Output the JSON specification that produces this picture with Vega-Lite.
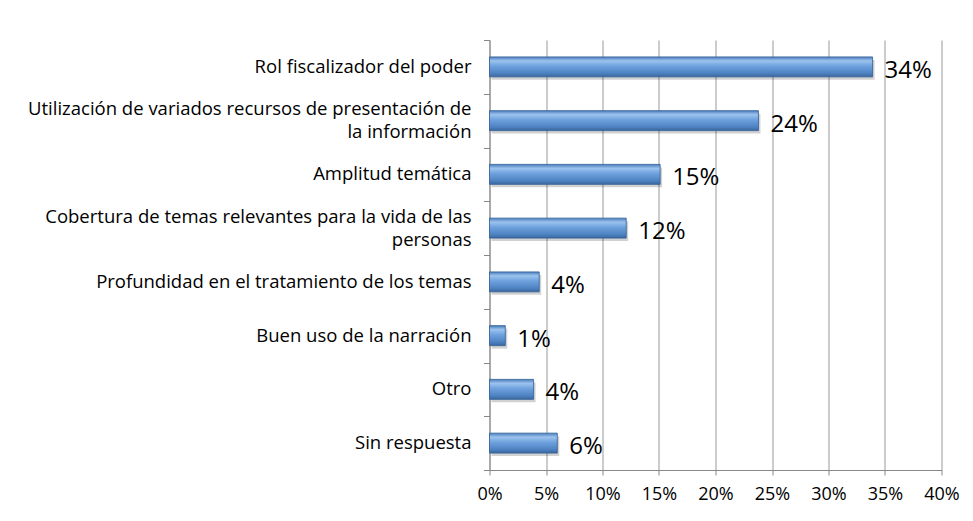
{
  "$schema": "https://vega.github.io/schema/vega-lite/v6.json",
  "autosize": {"type": "none"},
  "width": 452,
  "height": 430,
  "padding": {"left": 489.5, "top": 40, "right": 31.5, "bottom": 51},
  "background": "white",
  "config": {
    "view": {"stroke": null},
    "font": "Open Sans"
  },
  "data": {
    "values": [
      {"cat": "Rol fiscalizador del poder", "value": 0.339, "label": "34%"},
      {"cat": "Utilización de variados recursos de presentación de\nla información\u00a0\u00a0\u00a0\u00a0\u00a0\u00a0\u00a0\u00a0\u00a0\u00a0\u00a0\u00a0\u00a0\u00a0\u00a0\u00a0\u00a0\u00a0\u00a0\u00a0\u00a0\u00a0\u00a0\u00a0\u00a0\u00a0\u00a0\u00a0\u00a0\u00a0\u00a0\u00a0\u00a0", "value": 0.238, "label": "24%"},
      {"cat": "Amplitud temática", "value": 0.151, "label": "15%"},
      {"cat": "Cobertura de temas relevantes para la vida de las\npersonas\u00a0\u00a0\u00a0\u00a0\u00a0\u00a0\u00a0\u00a0\u00a0\u00a0\u00a0\u00a0\u00a0\u00a0\u00a0\u00a0\u00a0\u00a0\u00a0\u00a0\u00a0\u00a0\u00a0\u00a0\u00a0\u00a0\u00a0\u00a0\u00a0\u00a0\u00a0\u00a0\u00a0\u00a0\u00a0\u00a0", "value": 0.121, "label": "12%"},
      {"cat": "Profundidad en el tratamiento de los temas", "value": 0.044, "label": "4%"},
      {"cat": "Buen uso de la narración", "value": 0.014, "label": "1%"},
      {"cat": "Otro", "value": 0.039, "label": "4%"},
      {"cat": "Sin respuesta", "value": 0.06, "label": "6%"}
    ]
  },
  "encoding": {
    "y": {
      "field": "cat",
      "type": "nominal",
      "sort": null,
      "scale": {"paddingInner": 0, "paddingOuter": 0},
      "axis": {
        "title": null,
        "labels": false,
        "tickSize": 6,
        "tickColor": "#888888",
        "domainColor": "#888888",
        "tickBand": "extent",
        "grid": false
      }
    },
    "x": {
      "field": "value",
      "type": "quantitative",
      "scale": {"domain": [0, 0.4], "nice": false},
      "axis": {
        "title": null,
        "values": [0, 0.05, 0.1, 0.15, 0.2, 0.25, 0.3, 0.35, 0.4],
        "format": ".0%",
        "labelFontSize": 18,
        "labelColor": "#000000",
        "labelPadding": 10,
        "tickSize": 5,
        "tickColor": "#888888",
        "domainColor": "#888888",
        "grid": true,
        "gridColor": "#999999",
        "gridOpacity": 1,
        "labelFlush": false
      }
    }
  },
  "layer": [
    {
      "mark": {"type": "bar", "height": {"band": 0.372}, "fill": "#000000", "opacity": 0.18, "xOffset": 2, "yOffset": 3}
    },
    {
      "mark": {
        "type": "bar",
        "height": {"band": 0.372},
        "stroke": "#2f5f96",
        "strokeWidth": 0.8,
        "fill": {
          "x1": 0, "y1": 0, "x2": 0, "y2": 1,
          "gradient": "linear",
          "stops": [
            {"offset": 0, "color": "#4a7cbc"},
            {"offset": 0.2, "color": "#9cc3ee"},
            {"offset": 0.45, "color": "#6fa2de"},
            {"offset": 0.8, "color": "#4f84c4"},
            {"offset": 1, "color": "#3b679e"}
          ]
        }
      }
    },
    {
      "mark": {"type": "text", "align": "left", "baseline": "middle", "dx": 12, "dy": 4, "fontSize": 24, "color": "#000000"},
      "encoding": {"text": {"field": "label"}}
    },
    {
      "mark": {
        "type": "text",
        "align": "right",
        "baseline": "middle",
        "dx": -18,
        "dy": {"expr": "indexof(datum.cat, '\\n') >= 0 ? -11.5 : 0"},
        "fontSize": 18.5,
        "lineHeight": 23,
        "lineBreak": "\n",
        "color": "#000000"
      },
      "encoding": {
        "x": {"datum": 0},
        "text": {"field": "cat"}
      }
    }
  ]
}
